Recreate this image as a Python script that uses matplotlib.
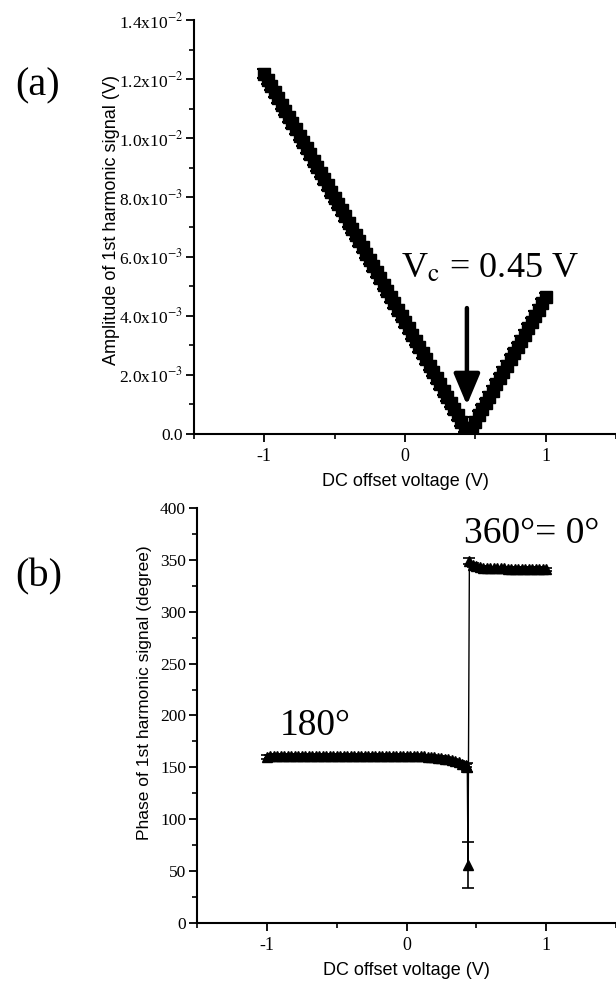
import numpy as np
import matplotlib
matplotlib.use("Agg")
import matplotlib.pyplot as plt
from matplotlib.ticker import MultipleLocator, FixedLocator, FixedFormatter

plt.rcParams["mathtext.fontset"] = "stix"
SERIF = "Liberation Serif"
SANS = "Liberation Sans"

# ---- panel (a): amplitude of 1st harmonic vs DC offset ----
dc_a = np.linspace(-1.0, 1.0, 81)
amp_mV = [12.19, 11.98, 11.77, 11.56, 11.35, 11.14, 10.93, 10.72, 10.51, 10.30,
          10.09, 9.88, 9.67, 9.46, 9.25, 9.04, 8.83, 8.62, 8.41, 8.20,
          7.99, 7.78, 7.57, 7.36, 7.15, 6.94, 6.73, 6.52, 6.31, 6.10,
          5.89, 5.68, 5.47, 5.26, 5.05, 4.84, 4.63, 4.42, 4.21, 4.00,
          3.78, 3.57, 3.36, 3.15, 2.94, 2.73, 2.52, 2.31, 2.10, 1.89,
          1.68, 1.47, 1.26, 1.05, 0.84, 0.63, 0.42, 0.21, 0.02,
          0.21, 0.42, 0.63, 0.84, 1.05, 1.26, 1.47, 1.68, 1.89, 2.10,
          2.31, 2.52, 2.73, 2.94, 3.15, 3.36, 3.57, 3.78, 4.00, 4.21,
          4.42, 4.63]
amp = np.array(amp_mV) * 1e-3
amp_err = 1.5e-4

amp_ticks = [0.0, 0.002, 0.004, 0.006, 0.008, 0.010, 0.012, 0.014]
amp_labels = ["0.0", r"2.0x10$^{-3}$", r"4.0x10$^{-3}$", r"6.0x10$^{-3}$",
              r"8.0x10$^{-3}$", r"1.0x10$^{-2}$", r"1.2x10$^{-2}$", r"1.4x10$^{-2}$"]

# ---- panel (b): phase of 1st harmonic vs DC offset ----
dc_b_low = np.linspace(-1.0, 0.425, 58)
phase_low = [160, 160.5, 161, 161, 161, 161, 161, 161, 161, 161,
             161, 161, 161, 161, 161, 161, 161, 161, 161, 161,
             161, 161, 161, 161, 161, 161, 161, 161, 161, 161,
             161, 161, 161, 161, 161, 161, 161, 161, 161, 161,
             161, 161, 161, 160.8, 160.6, 160.5, 160.3, 160, 159.8, 159.5,
             159, 158.5, 158, 157, 156, 155, 153.5, 152]
dc_b_jump = [0.435, 0.44, 0.45]
phase_jump = [150, 56, 349]
err_jump = [4, 22, 3]
dc_b_high = np.linspace(0.475, 1.0, 22)
phase_high = [345, 344, 343, 342.5, 342, 342, 342, 342, 342, 342,
              341.5, 341.5, 341.5, 341.5, 341.5, 341.5, 341.5, 341.5, 341.5, 341.5,
              341, 341]

dc_b = np.concatenate([dc_b_low, dc_b_jump, dc_b_high])
phase = np.concatenate([phase_low, phase_jump, phase_high])
phase_err = np.concatenate([np.full(len(phase_low), 1.5), err_jump,
                            np.full(len(phase_high), 1.5)])

fig = plt.figure(figsize=(6.16, 9.81), dpi=100)
ax_a = fig.add_axes([0.315, 0.5576, 0.685, 0.4219])
ax_b = fig.add_axes([0.320, 0.0591, 0.680, 0.4231])

for ax in (ax_a, ax_b):
    ax.spines["top"].set_visible(False)
    ax.spines["right"].set_visible(False)
    for s in ("left", "bottom"):
        ax.spines[s].set_linewidth(1.5)
    ax.set_xlim(-1.5, 1.5)
    ax.xaxis.set_major_locator(FixedLocator([-1, 0, 1]))
    ax.xaxis.set_major_formatter(FixedFormatter(["-1", "0", "1"]))
    ax.xaxis.set_minor_locator(MultipleLocator(0.5))
    ax.tick_params(which="major", direction="out", length=6, width=1.3,
                   labelsize=12.5, pad=2)
    ax.tick_params(which="minor", direction="out", length=3.5, width=1.2)
    ax.tick_params(axis="x", which="major", labelsize=13, pad=4)
    ax.set_xlabel("DC offset voltage (V)", fontsize=13, family=SANS, labelpad=6)

# panel (a)
ax_a.errorbar(dc_a, amp, yerr=amp_err, fmt="-s", color="black", ms=8,
              capsize=5, elinewidth=1.5, capthick=1.5, lw=2)
ax_a.set_ylim(0, 0.014)
ax_a.yaxis.set_major_locator(FixedLocator(amp_ticks))
ax_a.yaxis.set_major_formatter(FixedFormatter(amp_labels))
ax_a.yaxis.set_minor_locator(MultipleLocator(0.001))
ax_a.set_ylabel("Amplitude of 1st harmonic signal (V)", fontsize=13, family=SANS)
ax_a.yaxis.set_label_coords(-0.176, 0.517)
ax_a.annotate("", xy=(0.44, 0.00098), xytext=(0.44, 0.00426),
              arrowprops=dict(arrowstyle="-|>,head_length=1.9,head_width=0.8",
                              color="black", lw=3.2, shrinkA=0, shrinkB=0))
ax_a.text(-0.03, 0.00531, r"V$_{\rm c}$ = 0.45 V", fontsize=26, family=SERIF,
          ha="left", va="baseline")
fig.text(0.025, 0.912, "(a)", fontsize=29, family=SERIF, ha="left", va="center")

# panel (b)
ax_b.errorbar(dc_b, phase, yerr=phase_err, fmt="-^", color="black", ms=7,
              capsize=4, elinewidth=1.2, capthick=1.2, lw=1.0)
ax_b.set_ylim(0, 400)
ax_b.yaxis.set_major_locator(MultipleLocator(50))
ax_b.yaxis.set_minor_locator(MultipleLocator(25))
ax_b.set_ylabel("Phase of 1st harmonic signal (degree)", fontsize=12.5, family=SANS)
ax_b.yaxis.set_label_coords(-0.108, 0.554)
ax_b.text(-0.906, 181, "180°", fontsize=27, family=SERIF, ha="left", va="baseline")
ax_b.text(0.41, 366, "360°= 0°", fontsize=27, family=SERIF, ha="left", va="baseline")
fig.text(0.025, 0.412, "(b)", fontsize=29, family=SERIF, ha="left", va="center")

for ax in (ax_a, ax_b):
    for lab in ax.get_xticklabels() + ax.get_yticklabels():
        lab.set_fontfamily(SERIF)

fig.savefig("out.png", dpi=100)
